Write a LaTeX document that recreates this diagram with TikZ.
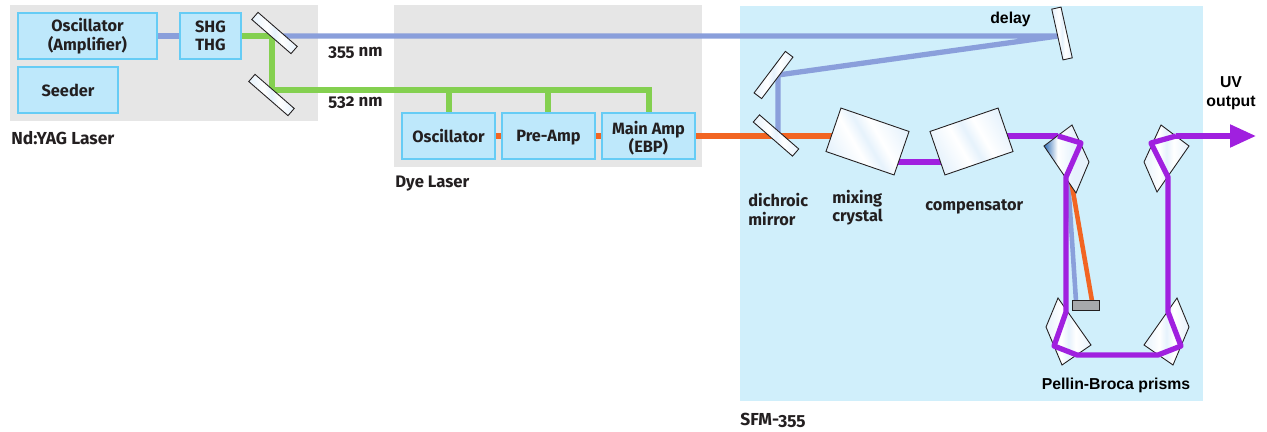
\documentclass[tikz,border=0pt]{standalone}
\usepackage{fontspec}
\setmainfont[Numbers=OldStyle]{Fira Sans}
\newfontfamily\arialfont{Liberation Sans}
\usetikzlibrary{arrows.meta}
\pgfdeclarelayer{panel}
\pgfdeclarelayer{bg}
\pgfsetlayers{panel,bg,main}

\definecolor{greypanel}{HTML}{E6E6E6}
\definecolor{bluepanel}{HTML}{D0EFFB}
\definecolor{boxfill}{HTML}{BEE8FB}
\definecolor{boxline}{HTML}{66CCF5}
\definecolor{beamblue}{HTML}{8A9FDB}
\definecolor{beamgreen}{HTML}{84D050}
\definecolor{beamorange}{HTML}{F26522}
\definecolor{beampurple}{HTML}{A020DF}
\definecolor{inktext}{HTML}{231F20}
\definecolor{blockgrey}{HTML}{A7A9AC}
\definecolor{glasstint}{HTML}{E6F2FC}
\definecolor{glassdark}{HTML}{2F6DB5}
\pgfdeclarehorizontalshading{glass}{100bp}{color(0bp)=(glasstint); color(25bp)=(glasstint); color(42bp)=(white); color(50bp)=(glasstint); color(58bp)=(white); color(75bp)=(glasstint); color(100bp)=(glasstint)}
\pgfdeclarehorizontalshading{glassfade}{100bp}{color(0bp)=(glassdark); color(25bp)=(glassdark); color(40bp)=(white); color(58bp)=(glasstint); color(100bp)=(glasstint)}

\tikzset{
    panel/.style={fill=#1, inner sep=0pt},
    box/.style={draw=boxline, fill=boxfill, line width=1.1pt, inner sep=0pt, align=center, minimum height=0.92cm, text=inktext, font=\bfseries\fontsize{9.3}{10.5}\selectfont},
    glasspiece/.style={draw=inktext, line width=0.5pt, inner sep=0pt, shade, shading=glass},
    mirror/.style={glasspiece, minimum width=1.04cm, minimum height=0.19cm},
    crystal/.style={glasspiece, minimum width=1.44cm, minimum height=0.92cm, shading angle=30},
    prism/.style={draw=inktext, line width=0.5pt, shade, shading=glass},
    beam/.style={draw=#1, line width=3pt},
    caption/.style={anchor=west, inner sep=0pt, align=left, text=inktext, font=\bfseries\fontsize{9.3}{10.6}\selectfont},
    paneltitle/.style={caption, font=\bfseries\fontsize{9.9}{11}\selectfont},
    arialcaption/.style={inner sep=0pt, align=center, text=black, font=\arialfont\bfseries\fontsize{9}{11}\selectfont}
}

\begin{document}
\begin{tikzpicture}[x=0.02cm, y=-0.02cm]
    \useasboundingbox (0,0) rectangle (1267,432);

    \begin{pgfonlayer}{panel}
        \node (yagpanel) [panel=greypanel, minimum width=6.16cm, minimum height=2.32cm] at (164,63) {};
        \node (dyepanel) [panel=greypanel, minimum width=6.16cm, minimum height=3.24cm] at (548,86) {};
        \node (sfmpanel) [panel=bluepanel, minimum width=9.26cm, minimum height=7.9cm] at (971.5,203.5) {};
    \end{pgfonlayer}

    \node (oscyag) [box, minimum width=2.78cm] at (87.5,36) {Oscillator\\(Amplifier)};
    \node (shg) [box, minimum width=1.22cm] at (210.5,36) {SHG\\THG};
    \node (seeder) [box, minimum width=2cm] at (68,90) {Seeder};
    \node (oscdye) [box, minimum width=1.86cm] at (448.5,136) {\rule{0pt}{8pt}Oscillator};
    \node (preamp) [box, minimum width=1.86cm] at (548.5,136) {\rule{0pt}{8pt}Pre-Amp};
    \node (mainamp) [box, minimum width=1.86cm] at (648.5,136) {\rule{0pt}{10pt}Main Amp\\(EBP)};

    \node (splitter) [mirror, rotate=-41] at (274.5,33) {};
    \node (foldgreen) [mirror, rotate=-41] at (271.5,95) {};
    \node (delaymirror) [mirror, rotate=-77.5] at (1062,33.5) {};
    \node (foldblue) [mirror, rotate=53] at (773.5,75) {};
    \node (dichroic) [mirror, rotate=-41] at (776,135.5) {};
    \node (mixing) [crystal, rotate=-19] at (867.5,141.5) {};
    \node (compensator) [crystal, rotate=19] at (971.5,141.5) {};
    \node (block) [draw=inktext, fill=blockgrey, line width=0.5pt, inner sep=0pt, minimum width=0.54cm, minimum height=0.2cm] at (1085.5,305) {};

    \coordinate (splithit) at (272,36);
    \coordinate (foldhit) at (272,90);
    \coordinate (delayhit) at (1058,36);
    \coordinate (bluehit) at (778,75);
    \coordinate (dichroichit) at (778,136);
    \coordinate (greenosc) at (449,90);
    \coordinate (greenpre) at (548,90);
    \coordinate (greenmain) at (649,90);
    \coordinate (prismblue) at (1068,180);
    \coordinate (prismorange) at (1071,180);
    \coordinate (blockblue) at (1076,301);
    \coordinate (blockorange) at (1092,301);
    \coordinate (pa) at (1058,136);
    \coordinate (pb) at (1081,143);
    \coordinate (pc) at (1066,177);
    \coordinate (pd) at (1066,312);
    \coordinate (pe) at (1054,346);
    \coordinate (pf) at (1077,355);
    \coordinate (pg) at (1158,355);
    \coordinate (ph) at (1181,346);
    \coordinate (pi) at (1168,312);
    \coordinate (pj) at (1168,177);
    \coordinate (pk) at (1151,143);
    \coordinate (pl) at (1176,136);
    \coordinate (uvend) at (1256,136);
    \coordinate (compout) at (1000,136);
    \coordinate (mixorange) at (840,136);
    \coordinate (mixout) at (890,162);
    \coordinate (compin) at (950,162);

    \begin{pgfonlayer}{bg}
        \draw [beam=beamblue] (oscyag) -- (shg);
        \draw [beam=beamgreen] (shg) -- (splithit);
        \draw [beam=beamblue] (splithit) -- (delayhit) -- (bluehit) -- (dichroichit);
        \draw [beam=beamgreen] (splithit) -- (foldhit) -- (greenmain) -- (mainamp.north -| greenmain);
        \draw [beam=beamgreen] (greenosc) -- (oscdye.north -| greenosc);
        \draw [beam=beamgreen] (greenpre) -- (preamp.north -| greenpre);
        \draw [beam=beamorange] (oscdye) -- (preamp);
        \draw [beam=beamorange] (preamp) -- (mainamp);
        \draw [beam=beamorange] (mainamp) -- (mixorange);
        \draw [beam=beampurple, line width=3.4pt] (mixout) -- (compin);
        \draw [beam=beampurple] (compout) -- (pa);
        \draw [beam=beamblue, line width=2.6pt] (prismblue) -- (blockblue);
        \draw [beam=beamorange, line width=2.6pt] (prismorange) -- (blockorange);
    \end{pgfonlayer}

    % prisms sit over the thin beams, the purple path goes over them
    \draw [prism, shading=glassfade] (1044,146) -- (1072,125) -- (1089,162) -- (1076,193) -- cycle;
    \draw [prism] (1189,146) -- (1161,125) -- (1144,162) -- (1157,192) -- cycle;
    \draw [prism] (1058,298) -- (1046,327) -- (1062,365) -- (1091,345) -- cycle;
    \draw [prism] (1177,298) -- (1189,327) -- (1173,365) -- (1144,345) -- cycle;

    \draw [beam=beampurple, line join=round] (pa) -- (pb) -- (pc) -- (pd) -- (pe) -- (pf) -- (pg) -- (ph) -- (pi) -- (pj) -- (pk) -- (pl);
    \draw [beam=beampurple, -{Triangle[length=14.8pt, width=12.5pt]}] (pl) -- (uvend);

    \node (nm355) [caption, font=\bfseries\fontsize{9.6}{11}\selectfont] at (328,53) {355 nm};
    \node (nm532) [caption, font=\bfseries\fontsize{9.6}{11}\selectfont] at (328,103) {532 nm};
    \node (yaglabel) [paneltitle] at (11,138.5) {Nd:YAG Laser};
    \node (dyelabel) [paneltitle, font=\bfseries\fontsize{9.5}{11}\selectfont] at (395,184) {Dye Laser};
    \node (sfmlabel) [paneltitle] at (740,420) {SFM-355};
    \node (dichroiclabel) [caption] at (748,209.5) {dichroic\\mirror};
    \node (mixinglabel) [caption] at (832,207.5) {mixing\\crystal};
    \node (complabel) [caption] at (925,207) {compensator};
    \node (delaylabel) [arialcaption] at (1010.5,19) {delay};
    \node (uvlabel) [arialcaption] at (1231,93) {UV\\output};
    \node (pellinlabel) [arialcaption] at (1116,385.5) {Pellin-Broca prisms};
\end{tikzpicture}
\end{document}
